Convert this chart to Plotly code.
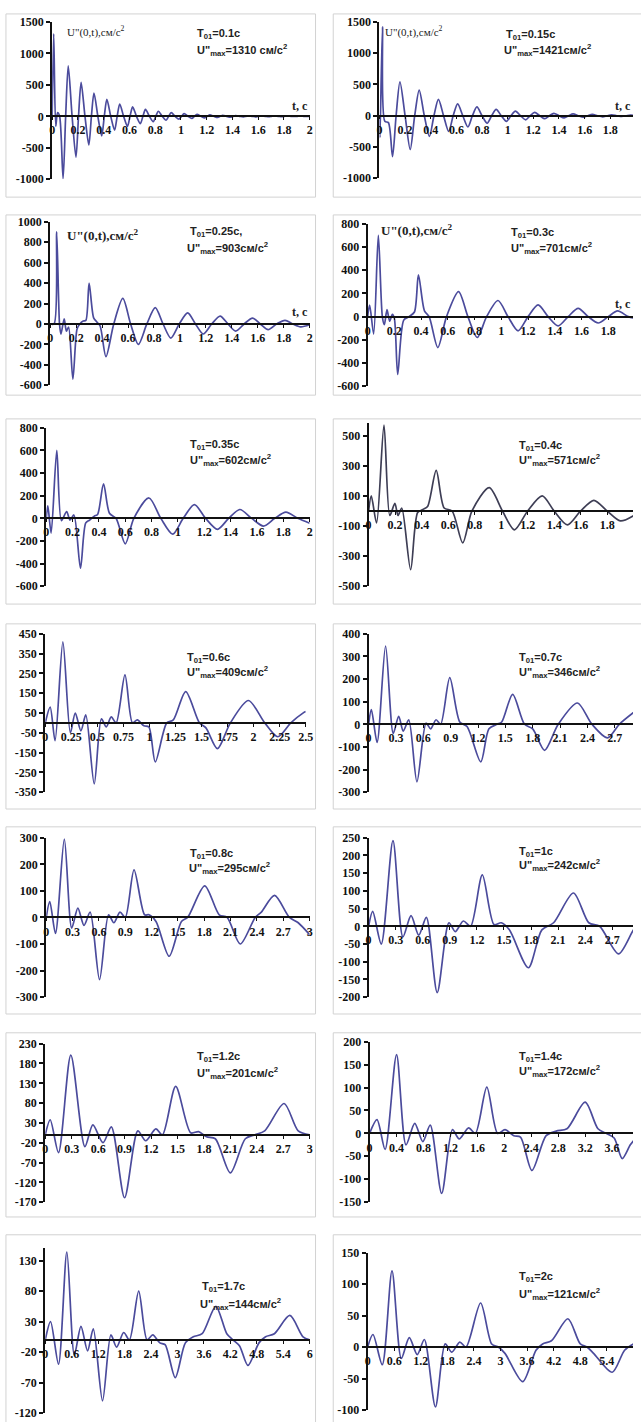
import plotly.graph_objects as go

W, H = 641, 1422

# Period of the first mode for each record, s
T01 = [0.1, 0.15, 0.25, 0.3, 0.35, 0.4, 0.6, 0.7, 0.8, 1, 1.2, 1.4, 1.7, 2]

# U''(0,t) records as (t, s ; U'', cm/s^2) points
p1 = [(0, 0), (0.012, 1310), (0.028, -160), (0.042, 60), (0.058, 0), (0.085, -990),
      (0.105, 0), (0.125, 800), (0.155, 0), (0.185, -650),
      (0.205, 0), (0.225, 540), (0.255, 0), (0.285, -455),
      (0.305, 0), (0.325, 370), (0.355, 0), (0.385, -310),
      (0.405, 0), (0.425, 270), (0.455, 0), (0.485, -220),
      (0.505, 0), (0.525, 195), (0.555, 0), (0.585, -160),
      (0.605, 0), (0.625, 150), (0.655, 0), (0.685, -115),
      (0.705, 0), (0.725, 110), (0.755, 0), (0.785, -85),
      (0.805, 0), (0.825, 80), (0.855, 0), (0.885, -62),
      (0.905, 0), (0.925, 58), (0.955, 0), (0.985, -45),
      (1.005, 0), (1.025, 42), (1.055, 0), (1.085, -33),
      (1.105, 0), (1.125, 30), (1.155, 0), (1.185, -24),
      (1.205, 0), (1.225, 22), (1.255, 0), (1.285, -18),
      (1.305, 0), (1.325, 16), (1.355, 0), (1.385, -13),
      (1.405, 0), (1.425, 12), (1.455, 0), (1.485, -10),
      (1.505, 0), (1.525, 9), (1.555, 0), (1.585, -8),
      (1.605, 0), (1.625, 7), (1.655, 0), (1.685, -6),
      (1.705, 0), (1.725, 5), (1.755, 0), (1.785, -5),
      (1.805, 0), (1.825, 4), (1.855, 0), (1.885, -3),
      (1.905, 0), (1.925, 3), (1.955, 0), (1.985, -2), (2.0, 0)]

p2 = [(0, 0), (0.004, -350), (0.024, 1421), (0.042, -90), (0.07, -110), (0.102, -655),
      (0.13, 0), (0.16, 540), (0.20, 0), (0.24, -540),
      (0.275, 0), (0.31, 410), (0.35, 0), (0.39, -330),
      (0.425, 0), (0.46, 260), (0.50, 0), (0.54, -250),
      (0.575, 0), (0.61, 190), (0.65, 0), (0.69, -180),
      (0.725, 0), (0.76, 140), (0.80, 0), (0.84, -120),
      (0.875, 0), (0.91, 100), (0.95, 0), (0.99, -90),
      (1.025, 0), (1.06, 72), (1.10, 0), (1.14, -65),
      (1.175, 0), (1.21, 52), (1.25, 0), (1.29, -48),
      (1.325, 0), (1.36, 38), (1.40, 0), (1.44, -34),
      (1.475, 0), (1.51, 28), (1.55, 0), (1.59, -24),
      (1.625, 0), (1.66, 20), (1.70, 0), (1.74, -17),
      (1.775, 0), (1.81, 14), (1.85, 0), (1.89, -12),
      (1.925, 0), (1.96, 10), (2.0, 0)]

p3 = [(0, 0), (0.03, 0), (0.05, 903), (0.072, 0), (0.083, -100), (0.108, 50),
      (0.125, -70), (0.142, -30), (0.175, -540), (0.207, -50), (0.228, 0),
      (0.255, 30), (0.275, 35), (0.30, 400), (0.335, 60), (0.36, 20), (0.385, -20),
      (0.43, -320), (0.49, 0), (0.56, 250), (0.62, 0), (0.68, -200), (0.745, 0),
      (0.81, 160), (0.87, 0), (0.93, -138), (0.995, 0), (1.06, 108), (1.12, 0),
      (1.18, -98), (1.245, 0), (1.31, 77), (1.37, 0), (1.43, -70), (1.495, 0),
      (1.56, 58), (1.62, 0), (1.68, -55), (1.745, 0), (1.81, 36), (1.87, 0),
      (1.93, -28), (2.0, -8)]

p4 = [(0, 0), (0.015, 100), (0.045, -150), (0.08, 701), (0.11, 0), (0.125, -70),
      (0.145, 60), (0.165, -40), (0.185, 20), (0.2, -15), (0.225, -498), (0.27, -30),
      (0.31, 0), (0.35, 40), (0.38, 360), (0.425, 50), (0.46, 0), (0.525, -267),
      (0.59, 0), (0.68, 215), (0.75, 0), (0.82, -180), (0.89, 0), (0.975, 139),
      (1.05, 0), (1.125, -122), (1.2, 0), (1.275, 101), (1.35, 0), (1.425, -80),
      (1.5, 0), (1.575, 72), (1.65, 0), (1.725, -55), (1.80, 0), (1.87, 49),
      (1.95, 0), (2.0, -15)]

p5 = [(0, 0), (0.012, 110), (0.037, -130), (0.08, 602), (0.115, -20), (0.155, 60),
      (0.18, -15), (0.21, 30), (0.26, -440), (0.30, -40), (0.33, -15), (0.365, 20),
      (0.39, 35), (0.435, 305), (0.48, 45), (0.53, 0), (0.60, -225), (0.665, 0),
      (0.78, 180), (0.87, 0), (0.96, -140), (1.04, 0), (1.125, 121), (1.21, 0),
      (1.30, -97), (1.385, 0), (1.47, 78), (1.56, 0), (1.65, -68), (1.735, 0),
      (1.82, 55), (1.91, 0), (2.0, -43)]

p6 = [(0, 0), (0.02, 100), (0.06, -80), (0.116, 571), (0.16, -30), (0.198, 50),
      (0.222, -30), (0.25, 20), (0.317, -390), (0.37, -10), (0.41, 10), (0.445, 30),
      (0.51, 270), (0.57, 20), (0.63, 0), (0.71, -212), (0.78, 0), (0.91, 155),
      (1.01, 0), (1.10, -125), (1.20, 0), (1.31, 100), (1.40, 0), (1.50, -92),
      (1.60, 0), (1.70, 71), (1.80, 0), (1.90, -66), (2.0, -30)]

p7 = [(0, 0), (0.047, 80), (0.094, -90), (0.169, 409), (0.241, -50), (0.288, 50),
      (0.342, -40), (0.389, 40), (0.47, -308), (0.539, 20), (0.586, -20), (0.633, 30),
      (0.68, 0), (0.765, 242), (0.837, 0), (0.884, 15), (0.947, -15), (0.994, -20),
      (1.056, -197), (1.166, 0), (1.229, 15), (1.348, 158), (1.48, 0), (1.542, -25),
      (1.652, -130), (1.777, 0), (1.95, 113), (2.107, 0), (2.232, -70), (2.357, 0),
      (2.483, 53), (2.5, 58)]

p8 = [(0, 0), (0.03, 65), (0.093, -80), (0.186, 346), (0.27, -40), (0.33, 35),
      (0.38, -30), (0.44, 20), (0.53, -254), (0.63, 5), (0.68, -20), (0.74, 20),
      (0.79, 0), (0.89, 206), (1.0, 10), (1.08, -10), (1.23, -166), (1.32, -20),
      (1.41, 0), (1.46, 10), (1.58, 132), (1.71, 0), (1.8, -20), (1.93, -115),
      (2.08, 0), (2.29, 94), (2.45, 0), (2.62, -60), (2.75, 0), (2.97, 72)]

p9 = [(0, 0), (0.04, 60), (0.105, -60), (0.206, 295), (0.29, -40), (0.36, 35),
      (0.43, -30), (0.5, 20), (0.607, -234), (0.71, 10), (0.77, -20), (0.84, 20),
      (0.9, 0), (1.0, 179), (1.12, 10), (1.17, 10), (1.25, -15), (1.40, -146),
      (1.54, -15), (1.61, 0), (1.805, 119), (1.97, 10), (2.06, 0), (2.21, -100),
      (2.38, 0), (2.45, 20), (2.60, 83), (2.77, 0), (2.87, -20), (3.0, -65)]

p10 = [(0, 0), (0.045, 42), (0.14, -50), (0.27, 242), (0.38, -30), (0.47, 30),
       (0.556, -25), (0.64, 25), (0.76, -187), (0.89, 10), (0.96, -15), (1.05, 15),
       (1.13, 0), (1.26, 145), (1.39, 5), (1.47, 10), (1.56, -10), (1.77, -117),
       (1.92, -10), (2.05, 10), (2.27, 94), (2.44, 10), (2.56, 0), (2.77, -78),
       (2.95, -5), (3.0, 0)]

p11 = [(0, 0), (0.056, 38), (0.15, -45), (0.29, 201), (0.45, -30), (0.54, 25),
       (0.655, -20), (0.75, 20), (0.90, -159), (1.05, 10), (1.14, -15), (1.255, 15),
       (1.33, 0), (1.48, 122), (1.65, 5), (1.74, 8), (1.83, -5), (1.93, -10),
       (2.10, -96), (2.27, -10), (2.38, 0), (2.49, 10), (2.71, 79), (2.87, 10),
       (3.0, 0)]

p12 = [(0, 0), (0.11, 30), (0.23, -35), (0.40, 172), (0.54, -25), (0.67, 22),
       (0.79, -18), (0.90, 18), (1.07, -131), (1.23, 8), (1.33, -12), (1.47, 12),
       (1.57, 0), (1.74, 101), (1.90, 0), (2.01, 8), (2.14, -5), (2.24, -8),
       (2.41, -81), (2.62, -5), (2.77, 5), (2.93, 10), (3.20, 68), (3.39, 10),
       (3.51, 0), (3.63, -10), (3.75, -55), (3.87, -25), (3.95, -10)]

p13 = [(0, 0), (0.12, 30), (0.30, -40), (0.49, 144), (0.66, -25), (0.81, 22),
       (0.96, -18), (1.09, 18), (1.30, -100), (1.49, 8), (1.62, -12), (1.78, 12),
       (1.91, 0), (2.12, 80), (2.31, 0), (2.44, 8), (2.6, -5), (2.72, -8),
       (2.95, -62), (3.18, -5), (3.36, 5), (3.56, 10), (3.87, 55), (4.12, 10),
       (4.26, 0), (4.41, -10), (4.6, -42), (4.85, -5), (5.0, 5), (5.2, 10),
       (5.55, 40), (5.85, 5), (6.0, 0)]

p14 = [(0, 0), (0.12, 20), (0.33, -28), (0.55, 121), (0.76, -18), (0.94, 15),
       (1.12, -12), (1.28, 12), (1.53, -95), (1.75, 5), (1.9, -8), (2.08, 8),
       (2.22, 0), (2.55, 70), (2.8, 5), (2.95, 0), (3.1, -10), (3.5, -55),
       (3.8, -5), (3.95, 5), (4.15, 10), (4.52, 45), (4.8, 5), (4.95, 0),
       (5.1, -10), (5.52, -40), (5.8, -5), (6.0, 5)]

records = [p1, p2, p3, p4, p5, p6, p7, p8, p9, p10, p11, p12, p13, p14]

# Panel geometry in page pixels:
# (x of t=0, x of range end, t at range end, t step,
#  low y tick, its y px, high y tick, its y px, y step, top of y range)
geo = [
    (50, 312, 2.0, 0.2, -1000, 174, 1500, 15, 500, None),
    (383, 641, 1.977, 0.2, -1000, 173, 1500, 15, 500, None),
    (48, 312, 2.0, 0.2, -600, 382, 1000, 217, 200, None),
    (371, 641, 1.985, 0.2, -600, 383, 800, 219, 200, None),
    (44, 312, 2.0, 0.2, -600, 585, 800, 425, 200, None),
    (372, 641, 1.995, 0.2, -500, 585, 500, 433, 200, 585),
    (43, 308, 2.5, 0.25, -350, 793, 450, 633, 100, None),
    (372, 641, 2.9, 0.3, -300, 793, 400, 633, 100, None),
    (44, 312, 3.0, 0.3, -300, 1000, 300, 839, 100, None),
    (372, 641, 2.93, 0.3, -200, 1000, 250, 839, 50, None),
    (43, 312, 3.0, 0.3, -170, 1207, 230, 1047, 50, None),
    (373, 641, 3.91, 0.4, -150, 1207, 200, 1045, 50, None),
    (43, 312, 6.0, 0.6, -120, 1420, 130, 1266, 50, 150),
    (371, 641, 5.99, 0.6, -100, 1417, 150, 1258, 50, None),
]

# Caption anchors (left x, centre y) for the T01 and U''max lines
caption_pos = [
    ((195, 27), (195, 43)), ((510, 28), (508, 43)),
    ((188, 227), (185, 243)), ((515, 228), (515, 243)),
    ((188, 442), (188, 457)), ((523, 443), (523, 457)),
    ((185, 657), (185, 672)), ((523, 657), (523, 672)),
    ((188, 855), (187, 870)), ((523, 853), (523, 867)),
    ((195, 1060), (195, 1077)), ((523, 1060), (523, 1075)),
    ((200, 1293), (198, 1310)), ((523, 1283), (523, 1300)),
]

# Chart-area frames per row (top, bottom px)
rows = [(7, 192), (210, 392), (416, 603), (623, 810), (828, 1017), (1036, 1222), (1240, 1432)]

LINE = "#4b4b9c"
LINE_DARK = "#3e3e55"
SERIF = "Liberation Serif, Times New Roman, serif"
SANS = "Liberation Sans, Arial, sans-serif"


def px_x(x):
    return x / W


def px_y(y):
    return 1 - y / H


def bold(s):
    return f"<b>{s}</b>"


fig = go.Figure()
layout = {}
annotations = []

for i, (pts, g, T) in enumerate(zip(records, geo, T01)):
    n = i + 1
    x0, x1, tend, dt, ylo, ylo_px, yhi, yhi_px, dy, ytop = g
    ytop = yhi if ytop is None else ytop
    scale = (ylo_px - yhi_px) / (yhi - ylo)
    ytop_px = yhi_px - (ytop - yhi) * scale
    dom_y = [px_y(ylo_px), px_y(ytop_px)]
    dom_x = [px_x(x0), min(1.0, px_x(x1))]
    zero_pos = dom_y[0] + (0 - ylo) / (ytop - ylo) * (dom_y[1] - dom_y[0])

    t = [p[0] for p in pts]
    u = [p[1] for p in pts]
    xa = "x" if n == 1 else f"x{n}"
    ya = "y" if n == 1 else f"y{n}"
    fig.add_trace(go.Scatter(
        x=t, y=u, xaxis=xa, yaxis=ya, mode="lines",
        line=dict(color=LINE_DARK if n == 6 else LINE, width=1.7,
                  shape="spline", smoothing=0.8),
        hoverinfo="skip", showlegend=False))

    yt = list(range(ylo, yhi + 1, dy))
    xt = [round(k * dt, 2) for k in range(int(round(tend / dt)) + 1)]
    layout["xaxis" if n == 1 else f"xaxis{n}"] = dict(
        domain=dom_x, range=[0, tend], anchor="free", position=zero_pos,
        showline=True, linecolor="#111111", linewidth=1.5,
        ticks="outside", ticklen=3, tickwidth=1, tickcolor="#111111",
        tickvals=xt, ticktext=[bold(f"{v:g}") for v in xt],
        showgrid=False, zeroline=False,
        tickfont=dict(family=SERIF, size=12, color="#111111"), fixedrange=True)
    layout["yaxis" if n == 1 else f"yaxis{n}"] = dict(
        domain=dom_y, range=[ylo, ytop], anchor=xa,
        showline=True, linecolor="#111111", linewidth=2,
        ticks="outside", ticklen=4, tickwidth=1.5, tickcolor="#111111",
        tickvals=yt, ticktext=[bold(str(v)) for v in yt],
        showgrid=False, zeroline=False,
        tickfont=dict(family=SERIF, size=12, color="#111111"), fixedrange=True)

    (tx, ty), (ux, uy) = caption_pos[i]
    tail = "," if n == 3 else ""
    sep = " " if n == 1 else ""
    annotations.append(dict(
        text=bold(f"T<sub>01</sub>={T:g}с{tail}"), x=px_x(tx), y=px_y(ty),
        xref="paper", yref="paper", xanchor="left", yanchor="middle",
        showarrow=False, font=dict(family=SANS, size=11, color="#222222")))
    annotations.append(dict(
        text=bold(f"U\"<sub>max</sub>={max(u)}{sep}см/с<sup>2</sup>"),
        x=px_x(ux), y=px_y(uy), xref="paper", yref="paper",
        xanchor="left", yanchor="middle", showarrow=False,
        font=dict(family=SANS, size=11, color="#222222")))

# axis captions on the first two rows
ylab = [(63, 25, False), (387, 25, False), (63, 230, True), (383, 225, True)]
for x, y, is_bold in ylab:
    txt = "U\"(0,t),см/с<sup>2</sup>"
    annotations.append(dict(
        text=bold(txt) if is_bold else txt, x=px_x(x), y=px_y(y),
        xref="paper", yref="paper", xanchor="left", yanchor="middle",
        showarrow=False,
        font=dict(family=SERIF, size=13 if is_bold else 11, color="#222222")))
tlab = [(312, 100), (641, 100), (312, 308), (641, 300)]
for x, y in tlab:
    annotations.append(dict(
        text=bold("t, с"), x=px_x(x), y=px_y(y), xref="paper", yref="paper",
        xanchor="right", yanchor="middle", showarrow=False,
        font=dict(family=SERIF, size=12, color="#222222")))

shapes = []
for top, bot in rows:
    for xl, xr in ((3, 318), (336, 660)):
        shapes.append(dict(type="rect", xref="paper", yref="paper",
                           x0=px_x(xl), x1=px_x(xr), y0=px_y(bot), y1=px_y(top),
                           line=dict(color="#d2d2d2", width=1), layer="below"))

fig.update_layout(
    width=W, height=H, margin=dict(l=0, r=0, t=0, b=0),
    paper_bgcolor="white", plot_bgcolor="white",
    font=dict(family=SERIF, size=12, color="#111111"),
    annotations=annotations, shapes=shapes, showlegend=False, **layout)

fig.write_html("out.html", config={"displayModeBar": False})
